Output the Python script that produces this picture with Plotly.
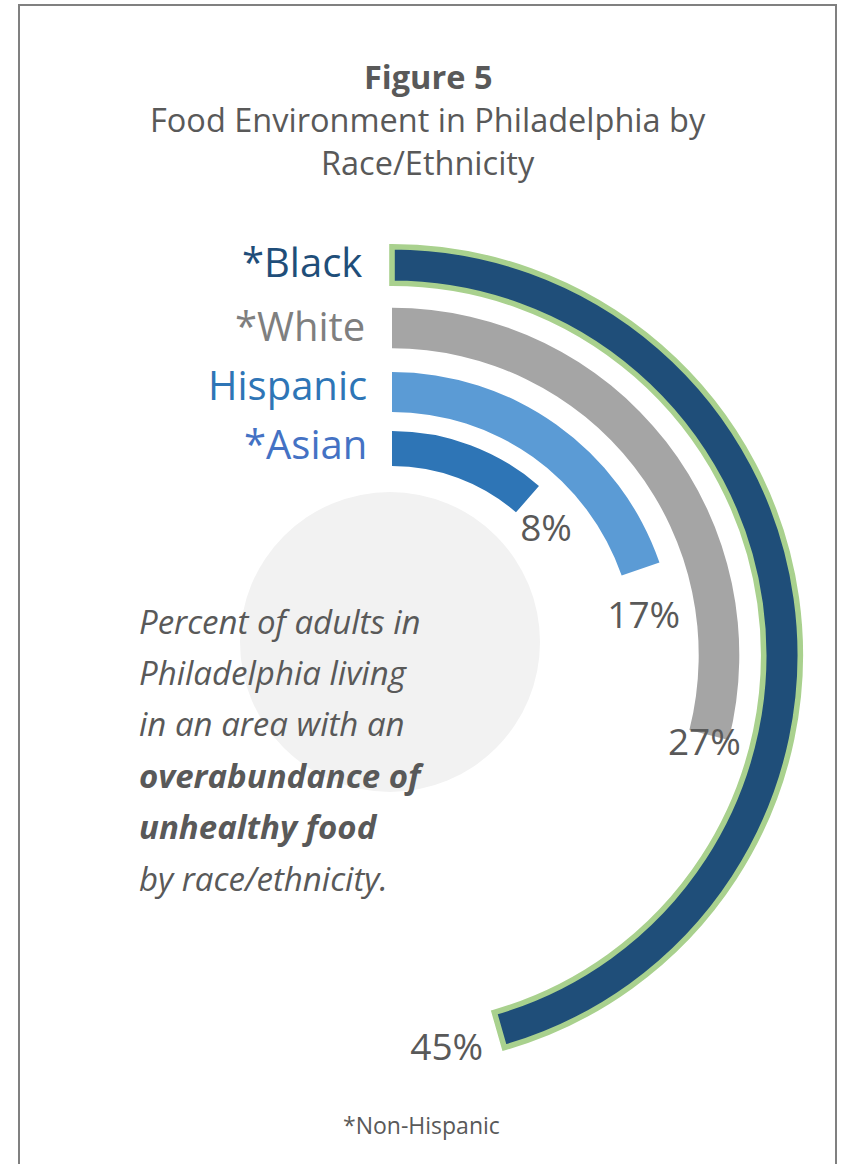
import math
import plotly.graph_objects as go

# ---- data -------------------------------------------------------------
groups = ["*Black", "*White", "Hispanic", "*Asian"]
pct_values = [45, 27, 17, 8]

bar_colors = ["#1F4E79", "#A5A5A5", "#5B9BD5", "#2E75B6"]
group_label_colors = ["#1F4E79", "#7F7F7F", "#2E75B6", "#4472C4"]

title_lines = ["<b>Figure 5</b>", "Food Environment in Philadelphia by", "Race/Ethnicity"]
note_lines = [
    "<i>Percent of adults in</i>",
    "<i>Philadelphia living</i>",
    "<i>in an area with an</i>",
    "<b><i>overabundance of</i></b>",
    "<b><i>unhealthy food</i></b>",
    "<i>by race/ethnicity.</i>",
]
footnote = "*Non-Hispanic"

# ---- geometry (pixels) ------------------------------------------------
W, H = 841, 1164
CX, CY = 392, 655          # centre of the rings
R_MAX = 415                # radial axis range == pixel radius
ring_base = [371.7, 306.7, 243.0, 189.0]   # inner radius of each ring
ring_thick = [36.6, 40.6, 40.0, 35.0]      # ring thickness
ring_line = [5.6, 0, 0, 0]                 # outline width (highlighted ring)
ring_line_color = ["#A9D18E", "rgba(0,0,0,0)", "rgba(0,0,0,0)", "rgba(0,0,0,0)"]

# angular scale: degrees swept clockwise from 12 o'clock for a percentage
ARC_START = 14.4
DEG_PER_PCT = 3.325


def sweep(v):
    return ARC_START + DEG_PER_PCT * v


# value-label placement relative to the end of each arc
label_dtheta = [8.1, 2.05, 10.9, 10.4]
label_r = [399.8, 325.3, 254.3, 197.1]

# vertical centres of the group names
name_y = [261, 325, 385, 443.5]
name_right = [364, 367, 369, 369]

TEXT_GREY = "#595959"
FONT = "Open Sans"


def px(x):
    return x / W


def py(y):
    return 1 - y / H


fig = go.Figure()

for i, g in enumerate(groups):
    span = sweep(pct_values[i])
    fig.add_trace(go.Barpolar(
        r=[ring_thick[i]],
        base=[ring_base[i]],
        theta=[span / 2],
        width=[span],
        marker=dict(color=bar_colors[i],
                    line=dict(color=ring_line_color[i], width=ring_line[i])),
        name=g,
        hoverinfo="skip",
        showlegend=False,
    ))

# value labels at the end of each arc
fig.add_trace(go.Scatterpolar(
    r=label_r,
    theta=[sweep(v) + d for v, d in zip(pct_values, label_dtheta)],
    mode="text",
    text=[f"{v}%" for v in pct_values],
    textposition="middle center",
    textfont=dict(family=FONT, size=37, color=TEXT_GREY),
    cliponaxis=False,
    hoverinfo="skip",
    showlegend=False,
))

# polar area: sector covering the right half plus a sliver past 12 o'clock
SECTOR = [-90, 100]
xmin = min(0.0, math.cos(math.radians(SECTOR[1])))
fig.update_layout(
    polar=dict(
        sector=SECTOR,
        domain=dict(x=[px(CX + xmin * R_MAX), px(CX + R_MAX)],
                    y=[(H - CY - R_MAX) / H, (H - CY + R_MAX) / H]),
        bgcolor="rgba(0,0,0,0)",
        bargap=0,
        radialaxis=dict(range=[0, R_MAX], visible=False, showgrid=False),
        angularaxis=dict(rotation=90, direction="clockwise", visible=False,
                         showgrid=False),
    )
)

annotations = []

# group names to the left of each ring
for i, g in enumerate(groups):
    annotations.append(dict(
        x=px(name_right[i]), y=py(name_y[i]), xref="paper", yref="paper",
        xanchor="right", yanchor="middle", showarrow=False, text=g,
        font=dict(family=FONT, size=40, color=group_label_colors[i]),
    ))

# title block
for t, yy in zip(title_lines, [77, 120, 163]):
    annotations.append(dict(
        x=px(428), y=py(yy), xref="paper", yref="paper",
        xanchor="center", yanchor="middle", showarrow=False, text=t,
        font=dict(family=FONT, size=32.5, color=TEXT_GREY),
    ))

# description inside the grey disc
for j, t in enumerate(note_lines):
    annotations.append(dict(
        x=px(137), y=py(621 + 51.4 * j), xref="paper", yref="paper",
        xanchor="left", yanchor="middle", showarrow=False, text=t,
        font=dict(family=FONT, size=33, color=TEXT_GREY),
    ))

annotations.append(dict(
    x=px(422), y=py(1125), xref="paper", yref="paper",
    xanchor="center", yanchor="middle", showarrow=False, text=footnote,
    font=dict(family=FONT, size=23, color=TEXT_GREY),
))

shapes = [
    # grey disc behind the description
    dict(type="circle", xref="paper", yref="paper", layer="below",
         x0=px(240), x1=px(540), y0=py(792), y1=py(492),
         fillcolor="#F2F2F2", line=dict(width=0)),
    # frame
    dict(type="line", xref="paper", yref="paper", x0=px(19), x1=px(19),
         y0=py(5), y1=py(H + 20), line=dict(color="#808080", width=2)),
    dict(type="line", xref="paper", yref="paper", x0=px(836), x1=px(836),
         y0=py(5), y1=py(H + 20), line=dict(color="#808080", width=2)),
    dict(type="line", xref="paper", yref="paper", x0=px(18), x1=px(837),
         y0=py(5), y1=py(5), line=dict(color="#808080", width=2)),
]

fig.update_layout(
    width=W, height=H,
    margin=dict(l=0, r=0, t=0, b=0),
    paper_bgcolor="white",
    plot_bgcolor="white",
    annotations=annotations,
    shapes=shapes,
    showlegend=False,
)

fig.write_html("out.html")
